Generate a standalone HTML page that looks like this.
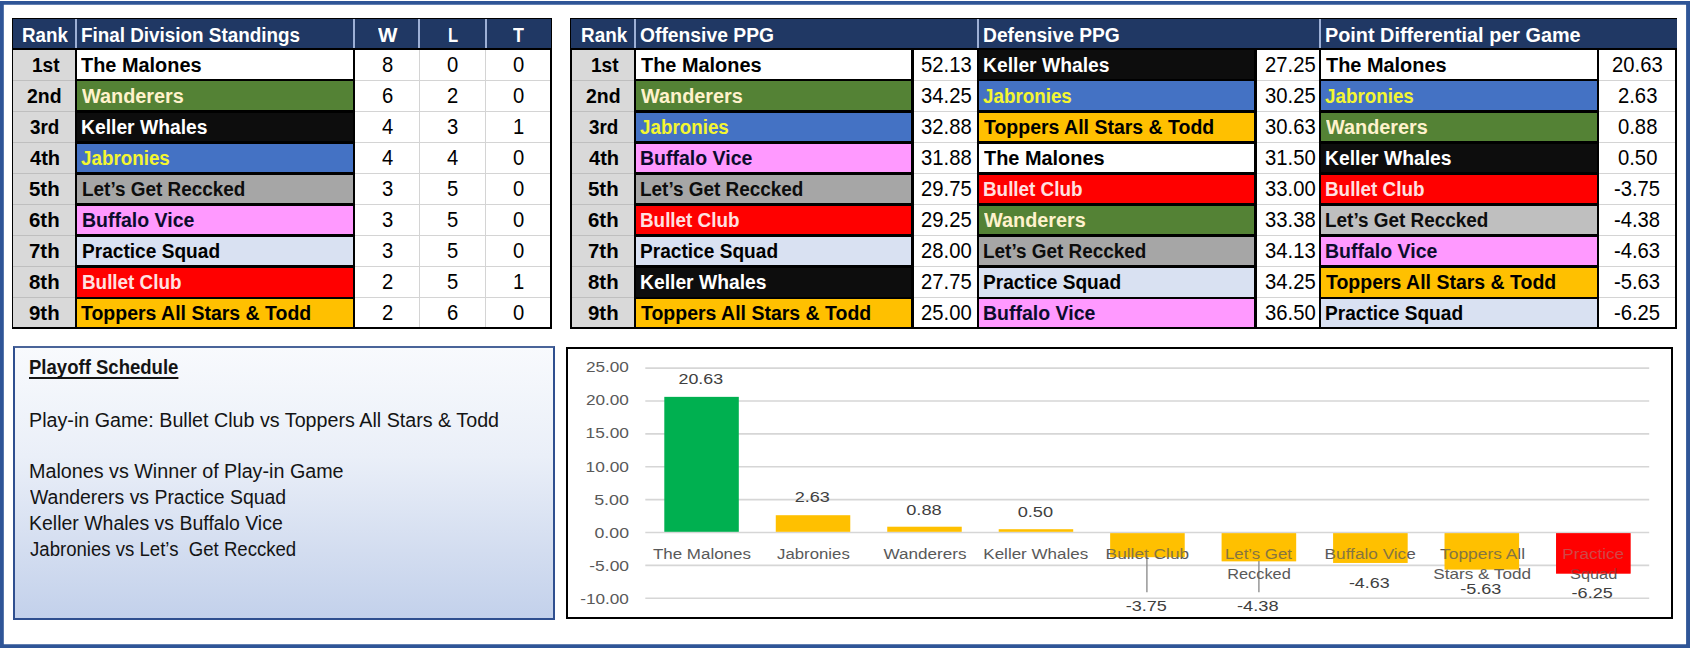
<!DOCTYPE html><html lang="en"><head><meta charset="utf-8"><title>Final Division Standings</title><style>
html,body{margin:0;padding:0;background:#fff}
body{width:1690px;height:648px;position:relative;overflow:hidden;font-family:"Liberation Sans", sans-serif}
.r{position:absolute}
.t{position:absolute;white-space:pre;transform-origin:0 0;font-weight:400;display:block}
.b{font-weight:700}
.u{text-decoration:underline;text-decoration-thickness:1.7px;text-underline-offset:2.6px;text-decoration-skip-ink:none}
#frame{position:absolute;left:0;top:0;width:1690px;height:648px}
#playoff{position:absolute;left:13px;top:346px;width:538px;height:269.5px;border:2px solid #2f4f8f;border-top-color:#4a6499;background:linear-gradient(to bottom,#f8fafd 0%,#eaeff8 40%,#d3ddf0 75%,#c3d1eb 100%)}
#chart{position:absolute;left:566px;top:347px;width:1107px;height:272px}
#chart text{font-family:"Liberation Sans", sans-serif}
</style></head><body>
<svg id="frame" viewBox="0 0 1690 648" width="1690" height="648"><path fill="#2f5597" fill-rule="evenodd" d="M0 1.1H1690V648H0Z M3.8 4.7H1686.1V644.2H3.8Z"/></svg>
<div id="standings">
<div class="r" style="left:12.00px;top:17.80px;width:540.00px;height:311.40px;background:#000;"></div>
<div class="r" style="left:12.80px;top:18.80px;width:538.50px;height:29.20px;background:#203864;"></div>
<div class="r" style="left:75.20px;top:19.20px;width:2.00px;height:28.80px;background:#9db0d6;"></div>
<div class="r" style="left:352.60px;top:19.20px;width:2.00px;height:28.80px;background:#9db0d6;"></div>
<div class="r" style="left:418.40px;top:19.20px;width:2.00px;height:28.80px;background:#9db0d6;"></div>
<div class="r" style="left:484.50px;top:19.20px;width:2.00px;height:28.80px;background:#9db0d6;"></div>
<div class="r" style="left:13.10px;top:50.20px;width:63.10px;height:276.90px;background:#d9d9d9;"></div>
<div class="r" style="left:13.10px;top:79.60px;width:63.10px;height:1.20px;background:#bfbfbf;"></div>
<div class="r" style="left:13.10px;top:110.70px;width:63.10px;height:1.20px;background:#bfbfbf;"></div>
<div class="r" style="left:13.10px;top:141.80px;width:63.10px;height:1.20px;background:#bfbfbf;"></div>
<div class="r" style="left:13.10px;top:172.90px;width:63.10px;height:1.20px;background:#bfbfbf;"></div>
<div class="r" style="left:13.10px;top:204.00px;width:63.10px;height:1.20px;background:#bfbfbf;"></div>
<div class="r" style="left:13.10px;top:235.10px;width:63.10px;height:1.20px;background:#bfbfbf;"></div>
<div class="r" style="left:13.10px;top:266.20px;width:63.10px;height:1.20px;background:#bfbfbf;"></div>
<div class="r" style="left:13.10px;top:297.30px;width:63.10px;height:1.20px;background:#bfbfbf;"></div>
<div class="r" style="left:353.60px;top:50.20px;width:196.40px;height:276.90px;background:#fff;"></div>
<div class="r" style="left:353.60px;top:79.60px;width:196.40px;height:1.20px;background:#d4d4d4;"></div>
<div class="r" style="left:353.60px;top:110.70px;width:196.40px;height:1.20px;background:#d4d4d4;"></div>
<div class="r" style="left:353.60px;top:141.80px;width:196.40px;height:1.20px;background:#d4d4d4;"></div>
<div class="r" style="left:353.60px;top:172.90px;width:196.40px;height:1.20px;background:#d4d4d4;"></div>
<div class="r" style="left:353.60px;top:204.00px;width:196.40px;height:1.20px;background:#d4d4d4;"></div>
<div class="r" style="left:353.60px;top:235.10px;width:196.40px;height:1.20px;background:#d4d4d4;"></div>
<div class="r" style="left:353.60px;top:266.20px;width:196.40px;height:1.20px;background:#d4d4d4;"></div>
<div class="r" style="left:353.60px;top:297.30px;width:196.40px;height:1.20px;background:#d4d4d4;"></div>
<div class="r" style="left:418.80px;top:50.20px;width:1.20px;height:276.90px;background:#d4d4d4;"></div>
<div class="r" style="left:484.90px;top:50.20px;width:1.20px;height:276.90px;background:#d4d4d4;"></div>
<div class="r" style="left:75.20px;top:48.00px;width:279.80px;height:281.20px;background:#000;"></div>
<div class="r" style="left:77.20px;top:50.30px;width:275.50px;height:28.50px;background:#ffffff;"></div>
<div class="r" style="left:77.20px;top:81.40px;width:275.50px;height:28.50px;background:#548235;"></div>
<div class="r" style="left:77.20px;top:112.50px;width:275.50px;height:28.50px;background:#0d0d0d;"></div>
<div class="r" style="left:77.20px;top:143.60px;width:275.50px;height:28.50px;background:#4472c4;"></div>
<div class="r" style="left:77.20px;top:174.70px;width:275.50px;height:28.50px;background:#a6a6a6;"></div>
<div class="r" style="left:77.20px;top:205.80px;width:275.50px;height:28.50px;background:#ff99ff;"></div>
<div class="r" style="left:77.20px;top:236.90px;width:275.50px;height:28.50px;background:#d9e1f2;"></div>
<div class="r" style="left:77.20px;top:268.00px;width:275.50px;height:28.50px;background:#ff0000;"></div>
<div class="r" style="left:77.20px;top:299.10px;width:275.50px;height:27.90px;background:#ffc000;"></div>
<div class="row"><span class="t b" style="left:22.44px;top:24.75px;font-size:20.3px;line-height:20.3px;color:#ffffff;transform:scaleX(0.9244)">Rank</span><span class="t b" style="left:81.04px;top:24.75px;font-size:20.3px;line-height:20.3px;color:#ffffff;transform:scaleX(0.9298)">Final Division Standings</span><span class="t b" style="left:377.55px;top:24.75px;font-size:20.3px;line-height:20.3px;color:#ffffff;transform:scaleX(1.0158)">W</span><span class="t b" style="left:447.78px;top:24.75px;font-size:20.3px;line-height:20.3px;color:#ffffff;transform:scaleX(0.8190)">L</span><span class="t b" style="left:513.38px;top:24.75px;font-size:20.3px;line-height:20.3px;color:#ffffff;transform:scaleX(0.8833)">T</span></div>
<div class="row"><span class="t b" style="left:31.57px;top:54.95px;font-size:20.3px;line-height:20.3px;color:#000000;transform:scaleX(0.9405)">1st</span><span class="t b" style="left:81.45px;top:54.95px;font-size:20.3px;line-height:20.3px;color:#000000;transform:scaleX(0.9815)">The Malones</span><span class="t" style="left:381.97px;top:54.00px;font-size:21.2px;line-height:21.2px;color:#000000;transform:scaleX(0.9550)">8</span><span class="t" style="left:447.37px;top:54.00px;font-size:21.2px;line-height:21.2px;color:#000000;transform:scaleX(0.9550)">0</span><span class="t" style="left:513.17px;top:54.00px;font-size:21.2px;line-height:21.2px;color:#000000;transform:scaleX(0.9550)">0</span></div>
<div class="row"><span class="t b" style="left:27.28px;top:85.95px;font-size:20.3px;line-height:20.3px;color:#000000;transform:scaleX(0.9588)">2nd</span><span class="t b" style="left:82.30px;top:85.95px;font-size:20.3px;line-height:20.3px;color:#fff2cc;transform:scaleX(0.9782)">Wanderers</span><span class="t" style="left:381.97px;top:85.00px;font-size:21.2px;line-height:21.2px;color:#000000;transform:scaleX(0.9550)">6</span><span class="t" style="left:447.37px;top:85.00px;font-size:21.2px;line-height:21.2px;color:#000000;transform:scaleX(0.9550)">2</span><span class="t" style="left:513.17px;top:85.00px;font-size:21.2px;line-height:21.2px;color:#000000;transform:scaleX(0.9550)">0</span></div>
<div class="row"><span class="t b" style="left:30.04px;top:116.95px;font-size:20.3px;line-height:20.3px;color:#000000;transform:scaleX(0.9277)">3rd</span><span class="t b" style="left:81.11px;top:116.95px;font-size:20.3px;line-height:20.3px;color:#ffffff;transform:scaleX(0.9511)">Keller Whales</span><span class="t" style="left:381.97px;top:116.00px;font-size:21.2px;line-height:21.2px;color:#000000;transform:scaleX(0.9550)">4</span><span class="t" style="left:447.37px;top:116.00px;font-size:21.2px;line-height:21.2px;color:#000000;transform:scaleX(0.9550)">3</span><span class="t" style="left:513.17px;top:116.00px;font-size:21.2px;line-height:21.2px;color:#000000;transform:scaleX(0.9550)">1</span></div>
<div class="row"><span class="t b" style="left:29.70px;top:147.95px;font-size:20.3px;line-height:20.3px;color:#000000;transform:scaleX(0.9897)">4th</span><span class="t b" style="left:81.37px;top:147.95px;font-size:20.3px;line-height:20.3px;color:#f4f630;transform:scaleX(0.9266)">Jabronies</span><span class="t" style="left:381.97px;top:147.00px;font-size:21.2px;line-height:21.2px;color:#000000;transform:scaleX(0.9550)">4</span><span class="t" style="left:447.37px;top:147.00px;font-size:21.2px;line-height:21.2px;color:#000000;transform:scaleX(0.9550)">4</span><span class="t" style="left:513.17px;top:147.00px;font-size:21.2px;line-height:21.2px;color:#000000;transform:scaleX(0.9550)">0</span></div>
<div class="row"><span class="t b" style="left:29.19px;top:178.95px;font-size:20.3px;line-height:20.3px;color:#000000;transform:scaleX(1.0070)">5th</span><span class="t b" style="left:81.73px;top:178.95px;font-size:20.3px;line-height:20.3px;color:#0d0d0d;transform:scaleX(0.9328)">Let’s Get Reccked</span><span class="t" style="left:381.97px;top:178.00px;font-size:21.2px;line-height:21.2px;color:#000000;transform:scaleX(0.9550)">3</span><span class="t" style="left:447.37px;top:178.00px;font-size:21.2px;line-height:21.2px;color:#000000;transform:scaleX(0.9550)">5</span><span class="t" style="left:513.17px;top:178.00px;font-size:21.2px;line-height:21.2px;color:#000000;transform:scaleX(0.9550)">0</span></div>
<div class="row"><span class="t b" style="left:29.19px;top:209.95px;font-size:20.3px;line-height:20.3px;color:#000000;transform:scaleX(1.0070)">6th</span><span class="t b" style="left:81.70px;top:209.95px;font-size:20.3px;line-height:20.3px;color:#0c0c2c;transform:scaleX(0.9617)">Buffalo Vice</span><span class="t" style="left:381.97px;top:209.00px;font-size:21.2px;line-height:21.2px;color:#000000;transform:scaleX(0.9550)">3</span><span class="t" style="left:447.37px;top:209.00px;font-size:21.2px;line-height:21.2px;color:#000000;transform:scaleX(0.9550)">5</span><span class="t" style="left:513.17px;top:209.00px;font-size:21.2px;line-height:21.2px;color:#000000;transform:scaleX(0.9550)">0</span></div>
<div class="row"><span class="t b" style="left:29.19px;top:240.95px;font-size:20.3px;line-height:20.3px;color:#000000;transform:scaleX(1.0070)">7th</span><span class="t b" style="left:81.72px;top:240.95px;font-size:20.3px;line-height:20.3px;color:#000000;transform:scaleX(0.9424)">Practice Squad</span><span class="t" style="left:381.97px;top:240.00px;font-size:21.2px;line-height:21.2px;color:#000000;transform:scaleX(0.9550)">3</span><span class="t" style="left:447.37px;top:240.00px;font-size:21.2px;line-height:21.2px;color:#000000;transform:scaleX(0.9550)">5</span><span class="t" style="left:513.17px;top:240.00px;font-size:21.2px;line-height:21.2px;color:#000000;transform:scaleX(0.9550)">0</span></div>
<div class="row"><span class="t b" style="left:29.19px;top:271.95px;font-size:20.3px;line-height:20.3px;color:#000000;transform:scaleX(1.0070)">8th</span><span class="t b" style="left:81.74px;top:271.95px;font-size:20.3px;line-height:20.3px;color:#ffe1e1;transform:scaleX(0.9295)">Bullet Club</span><span class="t" style="left:381.97px;top:271.00px;font-size:21.2px;line-height:21.2px;color:#000000;transform:scaleX(0.9550)">2</span><span class="t" style="left:447.37px;top:271.00px;font-size:21.2px;line-height:21.2px;color:#000000;transform:scaleX(0.9550)">5</span><span class="t" style="left:513.17px;top:271.00px;font-size:21.2px;line-height:21.2px;color:#000000;transform:scaleX(0.9550)">1</span></div>
<div class="row"><span class="t b" style="left:29.19px;top:302.95px;font-size:20.3px;line-height:20.3px;color:#000000;transform:scaleX(1.0070)">9th</span><span class="t b" style="left:81.26px;top:302.95px;font-size:20.3px;line-height:20.3px;color:#000000;transform:scaleX(0.9609)">Toppers All Stars &amp; Todd</span><span class="t" style="left:381.97px;top:302.00px;font-size:21.2px;line-height:21.2px;color:#000000;transform:scaleX(0.9550)">2</span><span class="t" style="left:447.37px;top:302.00px;font-size:21.2px;line-height:21.2px;color:#000000;transform:scaleX(0.9550)">6</span><span class="t" style="left:513.17px;top:302.00px;font-size:21.2px;line-height:21.2px;color:#000000;transform:scaleX(0.9550)">0</span></div>
</div>
<div id="ppg">
<div class="r" style="left:570.00px;top:17.80px;width:1107.40px;height:311.40px;background:#000;"></div>
<div class="r" style="left:570.80px;top:18.80px;width:1105.90px;height:29.20px;background:#203864;"></div>
<div class="r" style="left:634.40px;top:19.20px;width:2.00px;height:28.80px;background:#9db0d6;"></div>
<div class="r" style="left:976.70px;top:19.20px;width:2.00px;height:28.80px;background:#9db0d6;"></div>
<div class="r" style="left:1319.40px;top:19.20px;width:2.00px;height:28.80px;background:#9db0d6;"></div>
<div class="r" style="left:572.00px;top:50.20px;width:63.40px;height:276.90px;background:#d9d9d9;"></div>
<div class="r" style="left:572.00px;top:79.60px;width:63.40px;height:1.20px;background:#bfbfbf;"></div>
<div class="r" style="left:572.00px;top:110.70px;width:63.40px;height:1.20px;background:#bfbfbf;"></div>
<div class="r" style="left:572.00px;top:141.80px;width:63.40px;height:1.20px;background:#bfbfbf;"></div>
<div class="r" style="left:572.00px;top:172.90px;width:63.40px;height:1.20px;background:#bfbfbf;"></div>
<div class="r" style="left:572.00px;top:204.00px;width:63.40px;height:1.20px;background:#bfbfbf;"></div>
<div class="r" style="left:572.00px;top:235.10px;width:63.40px;height:1.20px;background:#bfbfbf;"></div>
<div class="r" style="left:572.00px;top:266.20px;width:63.40px;height:1.20px;background:#bfbfbf;"></div>
<div class="r" style="left:572.00px;top:297.30px;width:63.40px;height:1.20px;background:#bfbfbf;"></div>
<div class="r" style="left:912.80px;top:50.20px;width:64.90px;height:276.90px;background:#fff;"></div>
<div class="r" style="left:912.80px;top:79.60px;width:64.90px;height:1.20px;background:#d4d4d4;"></div>
<div class="r" style="left:912.80px;top:110.70px;width:64.90px;height:1.20px;background:#d4d4d4;"></div>
<div class="r" style="left:912.80px;top:141.80px;width:64.90px;height:1.20px;background:#d4d4d4;"></div>
<div class="r" style="left:912.80px;top:172.90px;width:64.90px;height:1.20px;background:#d4d4d4;"></div>
<div class="r" style="left:912.80px;top:204.00px;width:64.90px;height:1.20px;background:#d4d4d4;"></div>
<div class="r" style="left:912.80px;top:235.10px;width:64.90px;height:1.20px;background:#d4d4d4;"></div>
<div class="r" style="left:912.80px;top:266.20px;width:64.90px;height:1.20px;background:#d4d4d4;"></div>
<div class="r" style="left:912.80px;top:297.30px;width:64.90px;height:1.20px;background:#d4d4d4;"></div>
<div class="r" style="left:1255.40px;top:50.20px;width:65.00px;height:276.90px;background:#fff;"></div>
<div class="r" style="left:1255.40px;top:79.60px;width:65.00px;height:1.20px;background:#d4d4d4;"></div>
<div class="r" style="left:1255.40px;top:110.70px;width:65.00px;height:1.20px;background:#d4d4d4;"></div>
<div class="r" style="left:1255.40px;top:141.80px;width:65.00px;height:1.20px;background:#d4d4d4;"></div>
<div class="r" style="left:1255.40px;top:172.90px;width:65.00px;height:1.20px;background:#d4d4d4;"></div>
<div class="r" style="left:1255.40px;top:204.00px;width:65.00px;height:1.20px;background:#d4d4d4;"></div>
<div class="r" style="left:1255.40px;top:235.10px;width:65.00px;height:1.20px;background:#d4d4d4;"></div>
<div class="r" style="left:1255.40px;top:266.20px;width:65.00px;height:1.20px;background:#d4d4d4;"></div>
<div class="r" style="left:1255.40px;top:297.30px;width:65.00px;height:1.20px;background:#d4d4d4;"></div>
<div class="r" style="left:1597.90px;top:50.20px;width:77.50px;height:276.90px;background:#fff;"></div>
<div class="r" style="left:1597.90px;top:79.60px;width:77.50px;height:1.20px;background:#d4d4d4;"></div>
<div class="r" style="left:1597.90px;top:110.70px;width:77.50px;height:1.20px;background:#d4d4d4;"></div>
<div class="r" style="left:1597.90px;top:141.80px;width:77.50px;height:1.20px;background:#d4d4d4;"></div>
<div class="r" style="left:1597.90px;top:172.90px;width:77.50px;height:1.20px;background:#d4d4d4;"></div>
<div class="r" style="left:1597.90px;top:204.00px;width:77.50px;height:1.20px;background:#d4d4d4;"></div>
<div class="r" style="left:1597.90px;top:235.10px;width:77.50px;height:1.20px;background:#d4d4d4;"></div>
<div class="r" style="left:1597.90px;top:266.20px;width:77.50px;height:1.20px;background:#d4d4d4;"></div>
<div class="r" style="left:1597.90px;top:297.30px;width:77.50px;height:1.20px;background:#d4d4d4;"></div>
<div class="r" style="left:634.40px;top:48.00px;width:279.80px;height:281.20px;background:#000;"></div>
<div class="r" style="left:636.40px;top:50.30px;width:274.30px;height:28.50px;background:#ffffff;"></div>
<div class="r" style="left:636.40px;top:81.40px;width:274.30px;height:28.50px;background:#548235;"></div>
<div class="r" style="left:636.40px;top:112.50px;width:274.30px;height:28.50px;background:#4472c4;"></div>
<div class="r" style="left:636.40px;top:143.60px;width:274.30px;height:28.50px;background:#ff99ff;"></div>
<div class="r" style="left:636.40px;top:174.70px;width:274.30px;height:28.50px;background:#a6a6a6;"></div>
<div class="r" style="left:636.40px;top:205.80px;width:274.30px;height:28.50px;background:#ff0000;"></div>
<div class="r" style="left:636.40px;top:236.90px;width:274.30px;height:28.50px;background:#d9e1f2;"></div>
<div class="r" style="left:636.40px;top:268.00px;width:274.30px;height:28.50px;background:#0d0d0d;"></div>
<div class="r" style="left:636.40px;top:299.10px;width:274.30px;height:27.90px;background:#ffc000;"></div>
<div class="r" style="left:976.70px;top:48.00px;width:280.10px;height:281.20px;background:#000;"></div>
<div class="r" style="left:978.70px;top:50.30px;width:275.40px;height:28.50px;background:#0d0d0d;"></div>
<div class="r" style="left:978.70px;top:81.40px;width:275.40px;height:28.50px;background:#4472c4;"></div>
<div class="r" style="left:978.70px;top:112.50px;width:275.40px;height:28.50px;background:#ffc000;"></div>
<div class="r" style="left:978.70px;top:143.60px;width:275.40px;height:28.50px;background:#ffffff;"></div>
<div class="r" style="left:978.70px;top:174.70px;width:275.40px;height:28.50px;background:#ff0000;"></div>
<div class="r" style="left:978.70px;top:205.80px;width:275.40px;height:28.50px;background:#548235;"></div>
<div class="r" style="left:978.70px;top:236.90px;width:275.40px;height:28.50px;background:#a6a6a6;"></div>
<div class="r" style="left:978.70px;top:268.00px;width:275.40px;height:28.50px;background:#d9e1f2;"></div>
<div class="r" style="left:978.70px;top:299.10px;width:275.40px;height:27.90px;background:#ff99ff;"></div>
<div class="r" style="left:1319.40px;top:48.00px;width:279.90px;height:281.20px;background:#000;"></div>
<div class="r" style="left:1321.40px;top:50.30px;width:275.20px;height:28.50px;background:#ffffff;"></div>
<div class="r" style="left:1321.40px;top:81.40px;width:275.20px;height:28.50px;background:#4472c4;"></div>
<div class="r" style="left:1321.40px;top:112.50px;width:275.20px;height:28.50px;background:#548235;"></div>
<div class="r" style="left:1321.40px;top:143.60px;width:275.20px;height:28.50px;background:#0d0d0d;"></div>
<div class="r" style="left:1321.40px;top:174.70px;width:275.20px;height:28.50px;background:#ff0000;"></div>
<div class="r" style="left:1321.40px;top:205.80px;width:275.20px;height:28.50px;background:#bfbfbf;"></div>
<div class="r" style="left:1321.40px;top:236.90px;width:275.20px;height:28.50px;background:#ff99ff;"></div>
<div class="r" style="left:1321.40px;top:268.00px;width:275.20px;height:28.50px;background:#ffc000;"></div>
<div class="r" style="left:1321.40px;top:299.10px;width:275.20px;height:27.90px;background:#d9e1f2;"></div>
<div class="row"><span class="t b" style="left:580.84px;top:24.75px;font-size:20.3px;line-height:20.3px;color:#ffffff;transform:scaleX(0.9306)">Rank</span><span class="t b" style="left:640.09px;top:24.75px;font-size:20.3px;line-height:20.3px;color:#ffffff;transform:scaleX(0.9511)">Offensive PPG</span><span class="t b" style="left:982.81px;top:24.75px;font-size:20.3px;line-height:20.3px;color:#ffffff;transform:scaleX(0.9481)">Defensive PPG</span><span class="t b" style="left:1324.78px;top:24.75px;font-size:20.3px;line-height:20.3px;color:#ffffff;transform:scaleX(0.9776)">Point Differential per Game</span></div>
<div class="row"><span class="t b" style="left:590.67px;top:54.95px;font-size:20.3px;line-height:20.3px;color:#000000;transform:scaleX(0.9405)">1st</span><span class="t b" style="left:640.85px;top:54.95px;font-size:20.3px;line-height:20.3px;color:#000000;transform:scaleX(0.9815)">The Malones</span><span class="t" style="left:920.66px;top:54.00px;font-size:21.2px;line-height:21.2px;color:#000000;transform:scaleX(0.9550)">52.13</span><span class="t b" style="left:982.81px;top:54.95px;font-size:20.3px;line-height:20.3px;color:#ffffff;transform:scaleX(0.9511)">Keller Whales</span><span class="t" style="left:1264.56px;top:54.00px;font-size:21.2px;line-height:21.2px;color:#000000;transform:scaleX(0.9550)">27.25</span><span class="t b" style="left:1325.75px;top:54.95px;font-size:20.3px;line-height:20.3px;color:#000000;transform:scaleX(0.9815)">The Malones</span><span class="t" style="left:1612.18px;top:54.00px;font-size:21.2px;line-height:21.2px;color:#000000;transform:scaleX(0.9550)">20.63</span></div>
<div class="row"><span class="t b" style="left:586.38px;top:85.95px;font-size:20.3px;line-height:20.3px;color:#000000;transform:scaleX(0.9588)">2nd</span><span class="t b" style="left:641.10px;top:85.95px;font-size:20.3px;line-height:20.3px;color:#fff2cc;transform:scaleX(0.9782)">Wanderers</span><span class="t" style="left:920.66px;top:85.00px;font-size:21.2px;line-height:21.2px;color:#000000;transform:scaleX(0.9550)">34.25</span><span class="t b" style="left:983.07px;top:85.95px;font-size:20.3px;line-height:20.3px;color:#f4f630;transform:scaleX(0.9266)">Jabronies</span><span class="t" style="left:1264.56px;top:85.00px;font-size:21.2px;line-height:21.2px;color:#000000;transform:scaleX(0.9550)">30.25</span><span class="t b" style="left:1325.07px;top:85.95px;font-size:20.3px;line-height:20.3px;color:#f4f630;transform:scaleX(0.9266)">Jabronies</span><span class="t" style="left:1617.80px;top:85.00px;font-size:21.2px;line-height:21.2px;color:#000000;transform:scaleX(0.9550)">2.63</span></div>
<div class="row"><span class="t b" style="left:589.14px;top:116.95px;font-size:20.3px;line-height:20.3px;color:#000000;transform:scaleX(0.9277)">3rd</span><span class="t b" style="left:640.17px;top:116.95px;font-size:20.3px;line-height:20.3px;color:#f4f630;transform:scaleX(0.9266)">Jabronies</span><span class="t" style="left:920.66px;top:116.00px;font-size:21.2px;line-height:21.2px;color:#000000;transform:scaleX(0.9550)">32.88</span><span class="t b" style="left:983.76px;top:116.95px;font-size:20.3px;line-height:20.3px;color:#000000;transform:scaleX(0.9609)">Toppers All Stars &amp; Todd</span><span class="t" style="left:1264.56px;top:116.00px;font-size:21.2px;line-height:21.2px;color:#000000;transform:scaleX(0.9550)">30.63</span><span class="t b" style="left:1326.00px;top:116.95px;font-size:20.3px;line-height:20.3px;color:#fff2cc;transform:scaleX(0.9782)">Wanderers</span><span class="t" style="left:1617.80px;top:116.00px;font-size:21.2px;line-height:21.2px;color:#000000;transform:scaleX(0.9550)">0.88</span></div>
<div class="row"><span class="t b" style="left:588.80px;top:147.95px;font-size:20.3px;line-height:20.3px;color:#000000;transform:scaleX(0.9897)">4th</span><span class="t b" style="left:640.30px;top:147.95px;font-size:20.3px;line-height:20.3px;color:#0c0c2c;transform:scaleX(0.9617)">Buffalo Vice</span><span class="t" style="left:920.66px;top:147.00px;font-size:21.2px;line-height:21.2px;color:#000000;transform:scaleX(0.9550)">31.88</span><span class="t b" style="left:983.75px;top:147.95px;font-size:20.3px;line-height:20.3px;color:#000000;transform:scaleX(0.9815)">The Malones</span><span class="t" style="left:1264.56px;top:147.00px;font-size:21.2px;line-height:21.2px;color:#000000;transform:scaleX(0.9550)">31.50</span><span class="t b" style="left:1324.81px;top:147.95px;font-size:20.3px;line-height:20.3px;color:#ffffff;transform:scaleX(0.9511)">Keller Whales</span><span class="t" style="left:1617.80px;top:147.00px;font-size:21.2px;line-height:21.2px;color:#000000;transform:scaleX(0.9550)">0.50</span></div>
<div class="row"><span class="t b" style="left:588.29px;top:178.95px;font-size:20.3px;line-height:20.3px;color:#000000;transform:scaleX(1.0070)">5th</span><span class="t b" style="left:640.33px;top:178.95px;font-size:20.3px;line-height:20.3px;color:#0d0d0d;transform:scaleX(0.9328)">Let’s Get Reccked</span><span class="t" style="left:920.66px;top:178.00px;font-size:21.2px;line-height:21.2px;color:#000000;transform:scaleX(0.9550)">29.75</span><span class="t b" style="left:983.24px;top:178.95px;font-size:20.3px;line-height:20.3px;color:#ffe1e1;transform:scaleX(0.9295)">Bullet Club</span><span class="t" style="left:1264.56px;top:178.00px;font-size:21.2px;line-height:21.2px;color:#000000;transform:scaleX(0.9550)">33.00</span><span class="t b" style="left:1325.24px;top:178.95px;font-size:20.3px;line-height:20.3px;color:#ffe1e1;transform:scaleX(0.9295)">Bullet Club</span><span class="t" style="left:1614.44px;top:178.00px;font-size:21.2px;line-height:21.2px;color:#000000;transform:scaleX(0.9550)">-3.75</span></div>
<div class="row"><span class="t b" style="left:588.29px;top:209.95px;font-size:20.3px;line-height:20.3px;color:#000000;transform:scaleX(1.0070)">6th</span><span class="t b" style="left:640.34px;top:209.95px;font-size:20.3px;line-height:20.3px;color:#ffe1e1;transform:scaleX(0.9295)">Bullet Club</span><span class="t" style="left:920.66px;top:209.00px;font-size:21.2px;line-height:21.2px;color:#000000;transform:scaleX(0.9550)">29.25</span><span class="t b" style="left:984.00px;top:209.95px;font-size:20.3px;line-height:20.3px;color:#fff2cc;transform:scaleX(0.9782)">Wanderers</span><span class="t" style="left:1264.56px;top:209.00px;font-size:21.2px;line-height:21.2px;color:#000000;transform:scaleX(0.9550)">33.38</span><span class="t b" style="left:1325.23px;top:209.95px;font-size:20.3px;line-height:20.3px;color:#0d0d0d;transform:scaleX(0.9328)">Let’s Get Reccked</span><span class="t" style="left:1614.44px;top:209.00px;font-size:21.2px;line-height:21.2px;color:#000000;transform:scaleX(0.9550)">-4.38</span></div>
<div class="row"><span class="t b" style="left:588.29px;top:240.95px;font-size:20.3px;line-height:20.3px;color:#000000;transform:scaleX(1.0070)">7th</span><span class="t b" style="left:640.32px;top:240.95px;font-size:20.3px;line-height:20.3px;color:#000000;transform:scaleX(0.9424)">Practice Squad</span><span class="t" style="left:920.66px;top:240.00px;font-size:21.2px;line-height:21.2px;color:#000000;transform:scaleX(0.9550)">28.00</span><span class="t b" style="left:983.23px;top:240.95px;font-size:20.3px;line-height:20.3px;color:#0d0d0d;transform:scaleX(0.9328)">Let’s Get Reccked</span><span class="t" style="left:1264.56px;top:240.00px;font-size:21.2px;line-height:21.2px;color:#000000;transform:scaleX(0.9550)">34.13</span><span class="t b" style="left:1325.20px;top:240.95px;font-size:20.3px;line-height:20.3px;color:#0c0c2c;transform:scaleX(0.9617)">Buffalo Vice</span><span class="t" style="left:1614.44px;top:240.00px;font-size:21.2px;line-height:21.2px;color:#000000;transform:scaleX(0.9550)">-4.63</span></div>
<div class="row"><span class="t b" style="left:588.29px;top:271.95px;font-size:20.3px;line-height:20.3px;color:#000000;transform:scaleX(1.0070)">8th</span><span class="t b" style="left:639.91px;top:271.95px;font-size:20.3px;line-height:20.3px;color:#ffffff;transform:scaleX(0.9511)">Keller Whales</span><span class="t" style="left:920.66px;top:271.00px;font-size:21.2px;line-height:21.2px;color:#000000;transform:scaleX(0.9550)">27.75</span><span class="t b" style="left:983.22px;top:271.95px;font-size:20.3px;line-height:20.3px;color:#000000;transform:scaleX(0.9424)">Practice Squad</span><span class="t" style="left:1264.56px;top:271.00px;font-size:21.2px;line-height:21.2px;color:#000000;transform:scaleX(0.9550)">34.25</span><span class="t b" style="left:1325.76px;top:271.95px;font-size:20.3px;line-height:20.3px;color:#000000;transform:scaleX(0.9609)">Toppers All Stars &amp; Todd</span><span class="t" style="left:1614.44px;top:271.00px;font-size:21.2px;line-height:21.2px;color:#000000;transform:scaleX(0.9550)">-5.63</span></div>
<div class="row"><span class="t b" style="left:588.29px;top:302.95px;font-size:20.3px;line-height:20.3px;color:#000000;transform:scaleX(1.0070)">9th</span><span class="t b" style="left:640.86px;top:302.95px;font-size:20.3px;line-height:20.3px;color:#000000;transform:scaleX(0.9609)">Toppers All Stars &amp; Todd</span><span class="t" style="left:920.66px;top:302.00px;font-size:21.2px;line-height:21.2px;color:#000000;transform:scaleX(0.9550)">25.00</span><span class="t b" style="left:983.20px;top:302.95px;font-size:20.3px;line-height:20.3px;color:#0c0c2c;transform:scaleX(0.9617)">Buffalo Vice</span><span class="t" style="left:1264.56px;top:302.00px;font-size:21.2px;line-height:21.2px;color:#000000;transform:scaleX(0.9550)">36.50</span><span class="t b" style="left:1325.22px;top:302.95px;font-size:20.3px;line-height:20.3px;color:#000000;transform:scaleX(0.9424)">Practice Squad</span><span class="t" style="left:1614.44px;top:302.00px;font-size:21.2px;line-height:21.2px;color:#000000;transform:scaleX(0.9550)">-6.25</span></div>
</div>
<div id="playoff"></div>
<div id="playoff-text"><span class="t b u" style="left:29.02px;top:357.70px;font-size:19.6px;line-height:19.6px;color:#141414;transform:scaleX(0.9462)">Playoff Schedule</span><span class="t" style="left:28.89px;top:411.20px;font-size:19.6px;line-height:19.6px;color:#141414;transform:scaleX(1.0053)">Play-in Game: Bullet Club vs Toppers All Stars &amp; Todd</span><span class="t" style="left:28.89px;top:461.80px;font-size:19.6px;line-height:19.6px;color:#141414;transform:scaleX(1.0066)">Malones vs Winner of Play-in Game</span><span class="t" style="left:30.00px;top:488.30px;font-size:19.6px;line-height:19.6px;color:#141414;transform:scaleX(0.9909)">Wanderers vs Practice Squad</span><span class="t" style="left:28.91px;top:514.40px;font-size:19.6px;line-height:19.6px;color:#141414;transform:scaleX(0.9943)">Keller Whales vs Buffalo Vice</span><span class="t" style="left:29.56px;top:540.20px;font-size:19.6px;line-height:19.6px;color:#141414;transform:scaleX(0.9486)">Jabronies vs Let’s  Get Reccked</span></div>
<svg id="chart" viewBox="566 347 1107 272" width="1107" height="272"><rect x="567" y="348" width="1105" height="270" fill="#fff" stroke="#000" stroke-width="2"/><line x1="645.3" x2="1649.2" y1="368.12" y2="368.12" stroke="#d6d6d6" stroke-width="1.7"/><line x1="645.3" x2="1649.2" y1="401.00" y2="401.00" stroke="#d6d6d6" stroke-width="1.7"/><line x1="645.3" x2="1649.2" y1="433.88" y2="433.88" stroke="#d6d6d6" stroke-width="1.7"/><line x1="645.3" x2="1649.2" y1="466.75" y2="466.75" stroke="#d6d6d6" stroke-width="1.7"/><line x1="645.3" x2="1649.2" y1="499.62" y2="499.62" stroke="#d6d6d6" stroke-width="1.7"/><line x1="645.3" x2="1649.2" y1="532.50" y2="532.50" stroke="#d6d6d6" stroke-width="1.7"/><line x1="645.3" x2="1649.2" y1="565.38" y2="565.38" stroke="#d6d6d6" stroke-width="1.7"/><line x1="645.3" x2="1649.2" y1="598.25" y2="598.25" stroke="#d6d6d6" stroke-width="1.7"/><rect x="664.30" y="396.86" width="74.5" height="134.94" fill="#00b050"/><rect x="775.77" y="515.21" width="74.5" height="16.59" fill="#ffc000"/><rect x="887.24" y="526.71" width="74.5" height="5.09" fill="#ffc000"/><rect x="998.71" y="529.21" width="74.5" height="2.59" fill="#ffc000"/><rect x="1110.18" y="533.20" width="74.5" height="23.96" fill="#ffc000"/><rect x="1221.65" y="533.20" width="74.5" height="28.10" fill="#ffc000"/><rect x="1333.12" y="533.20" width="74.5" height="29.74" fill="#ffc000"/><rect x="1444.59" y="533.20" width="74.5" height="36.32" fill="#ffc000"/><rect x="1556.06" y="533.20" width="74.5" height="40.39" fill="#ff0000"/><line x1="1146.9" x2="1146.9" y1="554.6" y2="592.3" stroke="#8f8f8f" stroke-width="1.4"/><line x1="1258.9" x2="1258.9" y1="560.9" y2="592.3" stroke="#8f8f8f" stroke-width="1.4"/><text transform="translate(652.90,558.90) scale(1.1866,1)" font-size="14.3" fill="#595959" xml:space="preserve">The Malones</text><text transform="translate(777.08,558.90) scale(1.1739,1)" font-size="14.3" fill="#595959" xml:space="preserve">Jabronies</text><text transform="translate(883.49,558.90) scale(1.1971,1)" font-size="14.3" fill="#595959" xml:space="preserve">Wanderers</text><text transform="translate(983.32,558.90) scale(1.1896,1)" font-size="14.3" fill="#595959" xml:space="preserve">Keller Whales</text><text transform="translate(1105.62,558.90) scale(1.2074,1)" font-size="14.3" fill="#595959" xml:space="preserve">Bullet Club</text><text transform="translate(1224.93,558.90) scale(1.1767,1)" font-size="14.3" fill="#595959" xml:space="preserve">Let’s Get</text><text transform="translate(1227.17,578.70) scale(1.1439,1)" font-size="14.3" fill="#595959" xml:space="preserve">Reccked</text><text transform="translate(1324.61,558.90) scale(1.2041,1)" font-size="14.3" fill="#595959" xml:space="preserve">Buffalo Vice</text><text transform="translate(1440.04,558.90) scale(1.2160,1)" font-size="14.3" fill="#595959" xml:space="preserve">Toppers All</text><text transform="translate(1433.29,578.70) scale(1.1987,1)" font-size="14.3" fill="#595959" xml:space="preserve">Stars &amp; Todd</text><text transform="translate(1562.31,558.90) scale(1.1980,1)" font-size="14.3" fill="#a08c8c" xml:space="preserve">Practice</text><text transform="translate(1570.00,578.70) scale(1.1447,1)" font-size="14.3" fill="#595959" xml:space="preserve">Squad</text><rect x="1110.18" y="533.20" width="74.5" height="23.96" fill="#ffc000" fill-opacity="0.27"/><rect x="1221.65" y="533.20" width="74.5" height="28.10" fill="#ffc000" fill-opacity="0.27"/><rect x="1333.12" y="533.20" width="74.5" height="29.74" fill="#ffc000" fill-opacity="0.27"/><rect x="1444.59" y="533.20" width="74.5" height="36.32" fill="#ffc000" fill-opacity="0.27"/><rect x="1556.06" y="533.20" width="74.5" height="40.39" fill="#ff0000" fill-opacity="0.5"/><text transform="translate(585.90,372.10) scale(1.2029,1)" font-size="14.3" fill="#595959" xml:space="preserve">25.00</text><text transform="translate(585.90,405.24) scale(1.2029,1)" font-size="14.3" fill="#595959" xml:space="preserve">20.00</text><text transform="translate(585.59,438.38) scale(1.2117,1)" font-size="14.3" fill="#595959" xml:space="preserve">15.00</text><text transform="translate(585.59,471.52) scale(1.2117,1)" font-size="14.3" fill="#595959" xml:space="preserve">10.00</text><text transform="translate(594.16,504.66) scale(1.2528,1)" font-size="14.3" fill="#595959" xml:space="preserve">5.00</text><text transform="translate(594.48,537.80) scale(1.2411,1)" font-size="14.3" fill="#595959" xml:space="preserve">0.00</text><text transform="translate(589.29,570.94) scale(1.2192,1)" font-size="14.3" fill="#595959" xml:space="preserve">-5.00</text><text transform="translate(580.20,604.08) scale(1.2025,1)" font-size="14.3" fill="#595959" xml:space="preserve">-10.00</text><text transform="translate(678.52,384.20) scale(1.2464,1)" font-size="14.3" fill="#404040" xml:space="preserve">20.63</text><text transform="translate(794.72,502.10) scale(1.2642,1)" font-size="14.3" fill="#404040" xml:space="preserve">2.63</text><text transform="translate(906.20,514.60) scale(1.2748,1)" font-size="14.3" fill="#404040" xml:space="preserve">0.88</text><text transform="translate(1017.67,516.60) scale(1.2748,1)" font-size="14.3" fill="#404040" xml:space="preserve">0.50</text><text transform="translate(1125.73,610.80) scale(1.2640,1)" font-size="14.3" fill="#404040" xml:space="preserve">-3.75</text><text transform="translate(1237.04,610.80) scale(1.2736,1)" font-size="14.3" fill="#404040" xml:space="preserve">-4.38</text><text transform="translate(1348.88,587.80) scale(1.2512,1)" font-size="14.3" fill="#404040" xml:space="preserve">-4.63</text><text transform="translate(1460.14,594.00) scale(1.2640,1)" font-size="14.3" fill="#404040" xml:space="preserve">-5.63</text><text transform="translate(1571.61,598.00) scale(1.2640,1)" font-size="14.3" fill="#404040" xml:space="preserve">-6.25</text></svg>
</body></html>
